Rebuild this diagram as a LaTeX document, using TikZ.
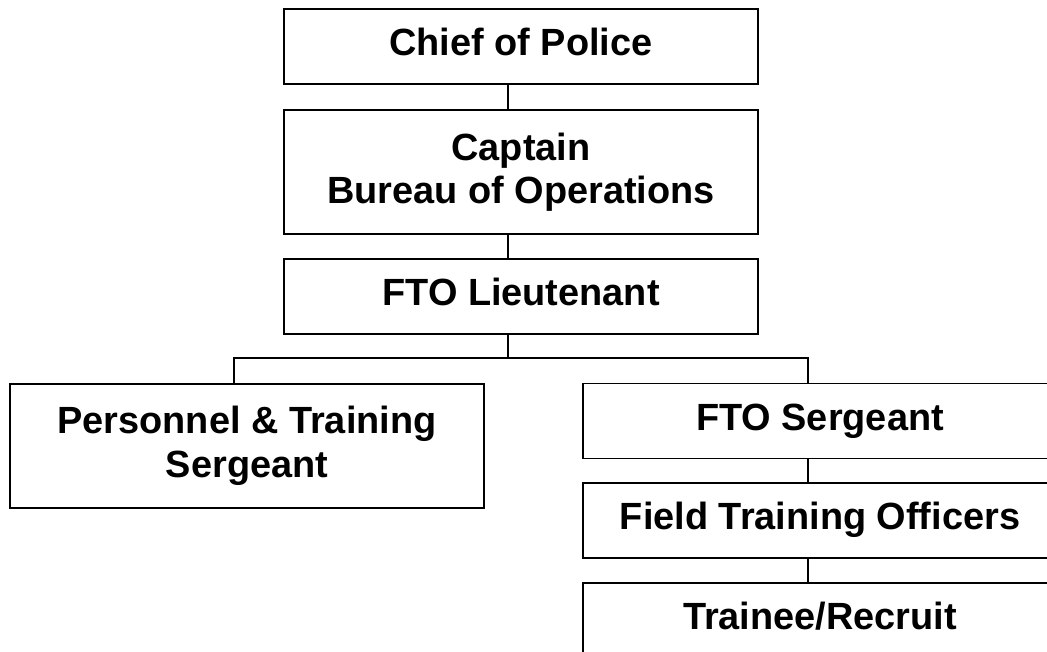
\documentclass[tikz,border=0pt]{standalone}
\usepackage{fontspec}
\setmainfont{Liberation Sans}
\usepackage{tikz}

\begin{document}
\begin{tikzpicture}[x=1pt, y=-1pt,
  post/.style={draw, line width=1.6pt, minimum width=474pt, minimum height=75pt,
    inner sep=0pt, align=center, font=\fontsize{37.9}{43.5}\selectfont\bfseries},
  oneline/.style={text height=26.5pt, text depth=7.6pt},
  link/.style={line width=1.6pt}]
  \useasboundingbox (0,0) rectangle (1047,652);

  % Command chain
  \node[post, oneline] (chief) at (521,46.5) {Chief of Police};
  \node[post, minimum height=124pt] (captain) at (521,172) {Captain\\Bureau of Operations};
  \node[post, oneline] (lieut) at (521,296.5) {FTO Lieutenant};

  % Second level
  \node[post, minimum height=124pt] (personnel) at (247,446) {Personnel \& Training\\Sergeant};
  \node[post, oneline] (ftosgt) at (820,421) {FTO Sergeant};
  \node[post, oneline] (officers) at (820,520.5) {Field Training Officers};
  \node[post, oneline] (trainee) at (820,620.5) {Trainee/Recruit};

  % Connectors
  \coordinate (bus) at (508,358);
  \draw[link] ([xshift=-13pt]chief.south) -- ([xshift=-13pt]captain.north);
  \draw[link] ([xshift=-13pt]captain.south) -- ([xshift=-13pt]lieut.north);
  \draw[link] ([xshift=-13pt]lieut.south) -- (bus);
  \draw[link] ([xshift=-13pt]personnel.north) |- (bus) -| ([xshift=-12pt]ftosgt.north);
  \draw[link] ([xshift=-12pt]ftosgt.south) -- ([xshift=-12pt]officers.north);
  \draw[link] ([xshift=-12pt]officers.south) -- ([xshift=-12pt]trainee.north);
\end{tikzpicture}
\end{document}
